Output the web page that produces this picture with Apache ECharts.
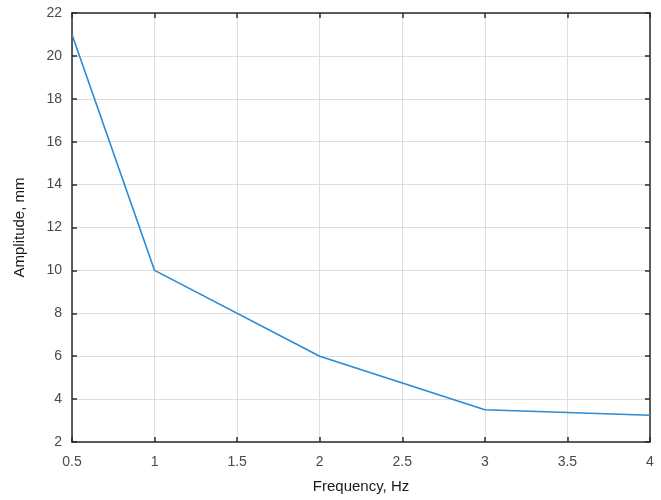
<!DOCTYPE html>
<html>
<head>
<meta charset="utf-8">
<script src="https://cdn.jsdelivr.net/npm/echarts@6/dist/echarts.min.js"></script>
<style>html,body{margin:0;padding:0;background:#fff}#c{width:661px;height:500px}</style>
</head>
<body>
<div id="c"></div>
<script>
const frequency = [0.5, 1, 2, 3, 4];
const amplitude = [21, 10, 6, 3.5, 3.25];
const xTitle = 'Frequency, Hz';
const yTitle = 'Amplitude, mm';

const chart = echarts.init(document.getElementById('c'), null, {renderer: 'canvas'});
const font = 'Liberation Sans, Arial, sans-serif';
const axisLine = {show: true, onZero: false, lineStyle: {color: '#2b2b2b', width: 1.5}};
const tick = {show: true, inside: true, length: 5, lineStyle: {color: '#2b2b2b', width: 1.5}};
chart.setOption({
  animation: false,
  backgroundColor: '#fff',
  grid: {left: 72, right: 11, top: 13, bottom: 58, containLabel: false},
  xAxis: [{
    type: 'value', min: 0.5, max: 4, interval: 0.5,
    name: xTitle, nameLocation: 'middle', nameGap: 37,
    nameTextStyle: {fontFamily: font, fontSize: 15, color: '#1a1a1a'},
    axisLine: axisLine, axisTick: tick,
    axisLabel: {fontFamily: font, fontSize: 14, color: '#4a4a4a', margin: 13},
    splitLine: {show: true, lineStyle: {color: '#dedede', width: 1}}
  }, {
    type: 'value', position: 'top', min: 0.5, max: 4, interval: 0.5,
    axisLine: axisLine, axisTick: tick, axisLabel: {show: false}, splitLine: {show: false}
  }],
  yAxis: [{
    type: 'value', min: 2, max: 22, interval: 2,
    name: yTitle, nameLocation: 'middle', nameGap: 45, nameRotate: 90,
    nameTextStyle: {fontFamily: font, fontSize: 15, color: '#1a1a1a'},
    axisLine: axisLine, axisTick: tick,
    axisLabel: {fontFamily: font, fontSize: 14, color: '#4a4a4a', margin: 10},
    splitLine: {show: true, lineStyle: {color: '#dedede', width: 1}}
  }, {
    type: 'value', position: 'right', min: 2, max: 22, interval: 2,
    axisLine: axisLine, axisTick: tick, axisLabel: {show: false}, splitLine: {show: false}
  }],
  series: [{
    type: 'line',
    data: frequency.map((f, i) => [f, amplitude[i]]),
    showSymbol: false,
    lineStyle: {color: '#2a8ad4', width: 1.6},
    itemStyle: {color: '#2a8ad4'}
  }]
});
</script>
</body>
</html>
